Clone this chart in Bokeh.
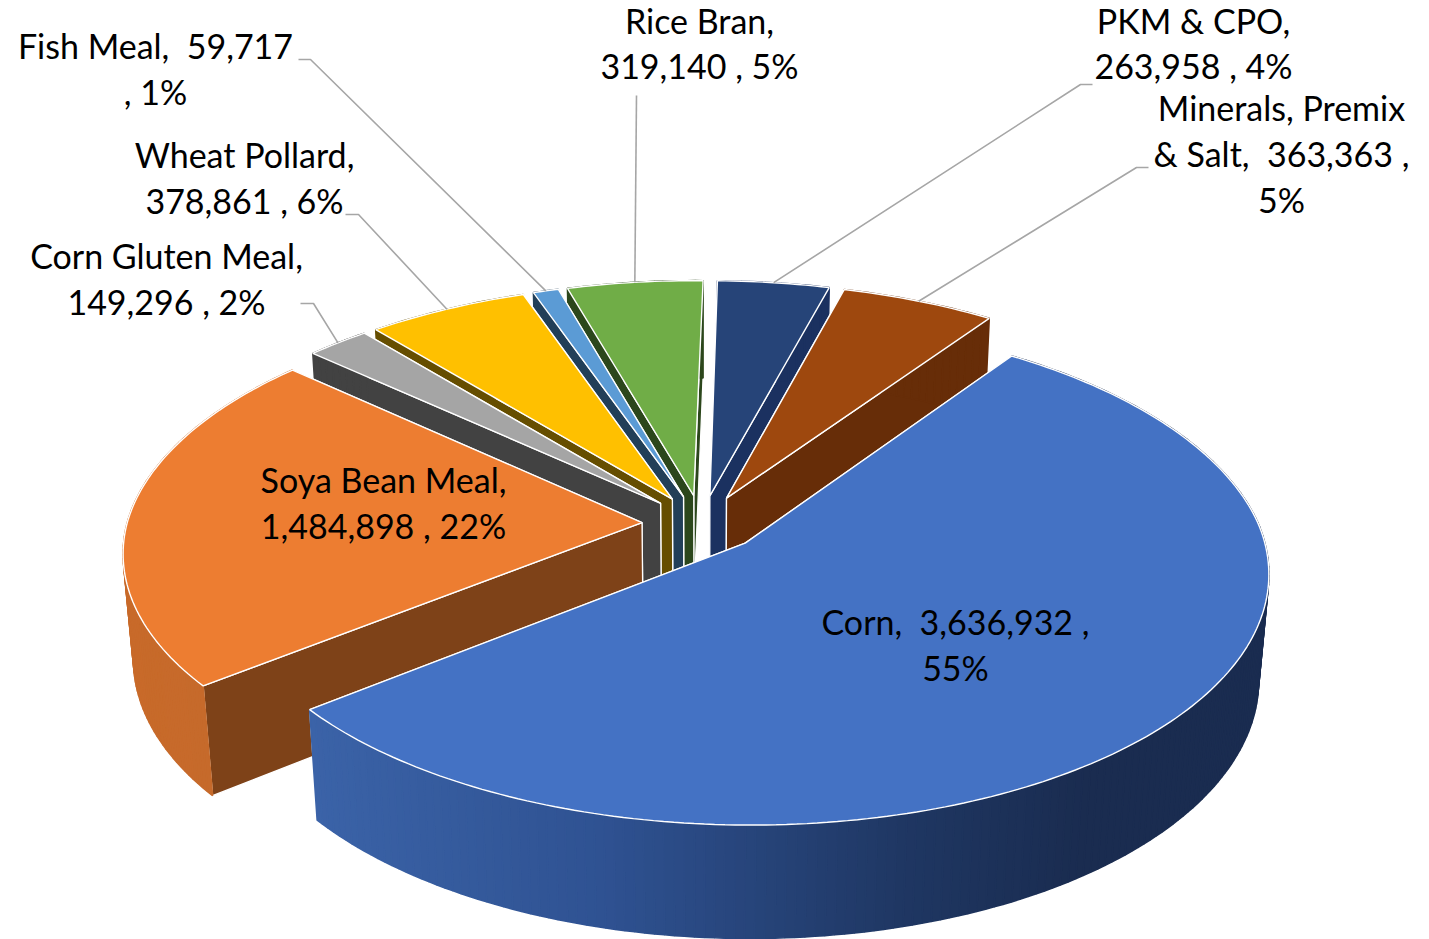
import math
from bokeh.plotting import figure
from bokeh.models import ColumnDataSource
from bokeh.core.properties import value
from bokeh.embed import file_html
from bokeh.resources import INLINE

# ---- data ----
categories = ["Corn", "Soya Bean Meal", "Corn Gluten Meal", "Wheat Pollard",
              "Fish Meal", "Rice Bran", "PKM & CPO", "Minerals, Premix & Salt"]
amounts = [3636932, 1484898, 149296, 378861, 59717, 319140, 263958, 363363]
label_templates = [
    ["Corn,\u00a0 {v} ,", "{p}"],
    ["Soya Bean Meal,", "{v} , {p}"],
    ["Corn Gluten Meal,", "{v} , {p}"],
    ["Wheat Pollard,", "{v} , {p}"],
    ["Fish Meal,\u00a0 {v}", ", {p}"],
    ["Rice Bran,", "{v} , {p}"],
    ["PKM & CPO,", "{v} , {p}"],
    ["Minerals, Premix", "& Salt,\u00a0 {v} ,", "{p}"],
]

# ---- style ----
top_colors = ["#4472c4", "#ed7d31", "#a5a5a5", "#ffc000", "#5b9bd5", "#70ad47", "#264478", "#9e480e"]
cut_colors = ["#1a2c50", "#7e4218", "#424242", "#664e00", "#223f58", "#2c471c", "#1b3160", "#672d08"]

# ---- layout: label centres and leader elbows (screen px) ----
label_pos = [(955, 621), (383, 479), (166, 255), (244, 154), (155, 45), (699, 20), (1193, 20), (1281, 107)]
line_gaps = [46, 46, 46, 46, 46, 45, 45, 46]
leaders = [None, None,
           ((300, 303), (313, 303)),
           ((345, 214), (358, 214)),
           ((298, 59), (310, 59)),
           ((636, 95), (636, 95)),
           ((1092, 84), (1080, 84)),
           ((1148, 167), (1136, 167))]

# ---- 3-D projection ----
CX, CY, A, B, K = 701.0, 523.0, 515.0, 245.3, 0.113
DEPTH, KZ, EXPLODE, START = 107.0, 0.018, 0.1156, 35.0
NARROW_RIGHT, NARROW_LEFT = 0.010, 0.007


def proj(X, Y, z=0.0):
    w = 1 + K * Y + KZ * z
    narrow = NARROW_RIGHT if X > 0 else NARROW_LEFT
    return CX + A * X / (w * (1 + narrow * max(Y, 0.0))), CY + (-B * Y + DEPTH * z) / w


def lerp_hex(c1, c2, t):
    a = [int(c1[i:i + 2], 16) for i in (1, 3, 5)]
    b = [int(c2[i:i + 2], 16) for i in (1, 3, 5)]
    return "#%02x%02x%02x" % tuple(round(p + (q - p) * t) for p, q in zip(a, b))


def wall_color(i, x):
    if i == 0:
        stops = [(310, "#3b63a8"), (600, "#2f5292"), (900, "#1f3763"), (1080, "#1a2c50"), (1300, "#1a2c50")]
    elif i == 1:
        stops = [(120, "#c86a2a"), (210, "#c66a2b")]
    else:
        return cut_colors[i]
    for (x0, c0), (x1, c1) in zip(stops, stops[1:]):
        if x <= x1:
            return lerp_hex(c0, c1, max(0.0, (x - x0) / (x1 - x0)))
    return stops[-1][1]


total = sum(amounts)
slices = []
ang = START
for i, v in enumerate(amounts):
    span = 360.0 * v / total
    mid = math.radians(ang + span / 2)
    ox, oy = EXPLODE * math.sin(mid), EXPLODE * math.cos(mid)
    n = max(6, int(span))
    rim = [(ox + math.sin(math.radians(ang + span * j / n)),
            oy + math.cos(math.radians(ang + span * j / n))) for j in range(n + 1)]
    rim_mid = (ox + math.sin(mid), oy + math.cos(mid))
    slices.append(dict(i=i, ox=ox, oy=oy, rim=rim, rim_mid=rim_mid))
    ang += span

p = figure(width=1429, height=939, x_range=(0, 1429), y_range=(939, 0),
           output_backend="svg", toolbar_location=None, min_border=0)
p.axis.visible = False
p.grid.visible = False
p.outline_line_color = None

# paint from the back of the scene to the front
for s in sorted(slices, key=lambda q: -q["oy"]):
    i, ox, oy, rim = s["i"], s["ox"], s["oy"], s["rim"]
    # cut faces, farther one first
    for pt in sorted((rim[0], rim[-1]), key=lambda q: -q[1]):
        corners = [proj(ox, oy, 0), proj(pt[0], pt[1], 0), proj(pt[0], pt[1], 1), proj(ox, oy, 1)]
        p.patch([c[0] for c in corners], [c[1] for c in corners],
                fill_color=cut_colors[i], line_color="white", line_width=1.3)
    # outer wall
    qx, qy, qc = [], [], []
    for a_, b_ in zip(rim, rim[1:]):
        corners = [proj(*a_, 0), proj(*b_, 0), proj(*b_, 1), proj(*a_, 1)]
        qx.append([c[0] for c in corners])
        qy.append([c[1] for c in corners])
        qc.append(wall_color(i, sum(c[0] for c in corners) / 4))
    p.patches(xs="x", ys="y", fill_color="c", line_color="c", line_width=1.6,
              source=ColumnDataSource(dict(x=qx, y=qy, c=qc)))
    # top face
    top = [proj(ox, oy)] + [proj(*q) for q in rim]
    p.patch([c[0] for c in top], [c[1] for c in top], fill_color=top_colors[i],
            line_color="white", line_width=1.4)

# leader lines
for s, lead in zip(slices, leaders):
    if lead is None:
        continue
    end = proj(*s["rim_mid"])
    p.line([lead[0][0], lead[1][0], end[0]], [lead[0][1], lead[1][1], end[1]],
           line_color="#a6a6a6", line_width=1.6)

# labels
tx, ty, tt = [], [], []
for v, tpl, (lx, ly), gap in zip(amounts, label_templates, label_pos, line_gaps):
    pct = f"{round(100 * v / total)}%"
    for n, row in enumerate(tpl):
        tx.append(lx)
        ty.append(ly + n * gap)
        tt.append(row.format(v=f"{v:,}", p=pct))
p.text(x="x", y="y", text="t", source=ColumnDataSource(dict(x=tx, y=ty, t=tt)),
       text_font=value("Lato"), text_font_size="34px", text_color="#000000",
       text_align="center", text_baseline="middle")

open("out.html", "w").write(file_html(p, INLINE))
